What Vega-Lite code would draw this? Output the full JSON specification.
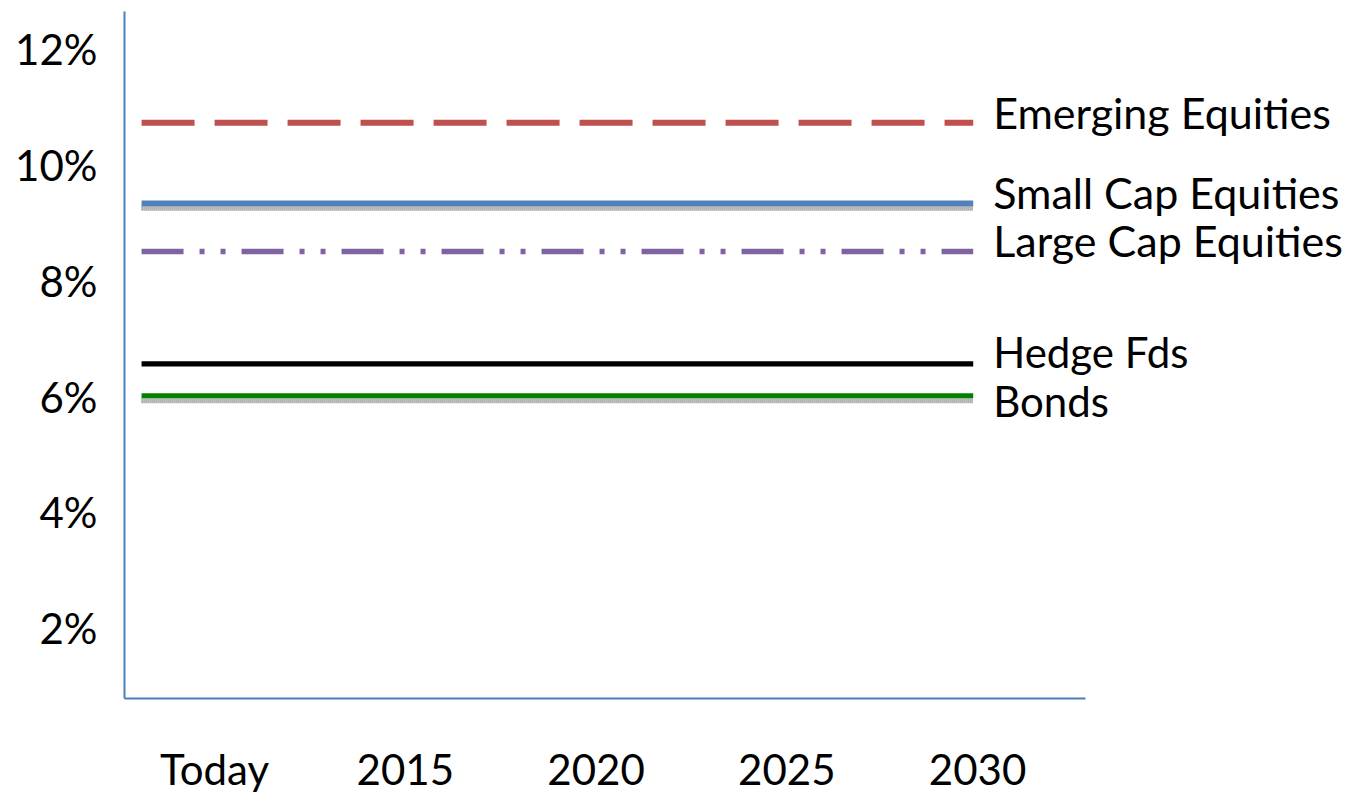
{
  "$schema": "https://vega.github.io/schema/vega-lite/v6.json",
  "width": 961,
  "height": 687,
  "autosize": {"type": "none"},
  "padding": {"left": 124, "top": 11, "right": 272, "bottom": 95},
  "background": "white",
  "config": {
    "view": {"stroke": null},
    "font": "Lato",
    "axis": {
      "grid": false,
      "ticks": false,
      "domainColor": "#4a7ebb",
      "domainWidth": 2,
      "labelFont": "Lato",
      "labelColor": "#000000",
      "title": null
    }
  },
  "datasets": {
    "returns": [
      {"series": "Emerging Equities", "start": 2008.1, "end": 2029.9, "value": 10.77},
      {"series": "Small Cap Equities", "start": 2008.1, "end": 2029.9, "value": 9.38},
      {"series": "Large Cap Equities", "start": 2008.1, "end": 2029.9, "value": 8.55},
      {"series": "Hedge Fds", "start": 2008.1, "end": 2029.9, "value": 6.61},
      {"series": "Bonds", "start": 2008.1, "end": 2029.9, "value": 6.06}
    ]
  },
  "data": {"name": "returns"},
  "encoding": {
    "x": {
      "field": "start",
      "type": "quantitative",
      "scale": {"domain": [2007.64, 2032.83], "nice": false, "zero": false},
      "axis": {
        "values": [2010, 2015, 2020, 2025, 2030],
        "labelExpr": "datum.value == 2010 ? 'Today' : '' + datum.value",
        "labelFontSize": 42,
        "labelBaseline": "alphabetic",
        "labelPadding": 86,
        "labelFlush": false,
        "labelOverlap": false
      }
    },
    "y": {
      "field": "value",
      "type": "quantitative",
      "scale": {"domain": [0.84, 12.7], "nice": false, "zero": false},
      "axis": {
        "values": [2, 4, 6, 8, 10, 12],
        "labelExpr": "datum.value + '%'",
        "labelFontSize": 42,
        "labelPadding": 27
      }
    }
  },
  "layer": [
    {
      "transform": [{"filter": "indexof(['Small Cap Equities', 'Bonds'], datum.series) >= 0"}],
      "mark": {"type": "rule", "yOffset": 5, "stroke": "#5a5a5a", "strokeWidth": 5, "strokeDash": [1, 1], "opacity": 0.85},
      "encoding": {"x2": {"field": "end"}}
    },
    {
      "mark": {"type": "rule", "strokeCap": "butt"},
      "encoding": {
        "x2": {"field": "end"},
        "color": {
          "field": "series",
          "type": "nominal",
          "legend": null,
          "scale": {
            "domain": ["Emerging Equities", "Small Cap Equities", "Large Cap Equities", "Hedge Fds", "Bonds"],
            "range": ["#c0504d", "#4f81bd", "#8064a2", "#000000", "#008000"]
          }
        },
        "strokeDash": {
          "field": "series",
          "type": "nominal",
          "legend": null,
          "scale": {
            "domain": ["Emerging Equities", "Small Cap Equities", "Large Cap Equities", "Hedge Fds", "Bonds"],
            "range": [[53, 20], [1, 0], [42, 16, 5, 16, 5, 16], [1, 0], [1, 0]]
          }
        },
        "strokeWidth": {
          "field": "series",
          "type": "nominal",
          "legend": null,
          "scale": {
            "domain": ["Emerging Equities", "Small Cap Equities", "Large Cap Equities", "Hedge Fds", "Bonds"],
            "range": [6, 5, 5, 3, 5]
          }
        }
      }
    },
    {
      "transform": [{"filter": "indexof(['Emerging Equities', 'Small Cap Equities', 'Large Cap Equities'], datum.series) >= 0"}],
      "mark": {"type": "text", "align": "left", "baseline": "alphabetic", "dx": 20, "dy": 6, "fontSize": 43, "font": "Lato", "color": "#000000"},
      "encoding": {"x": {"field": "end", "type": "quantitative"}, "text": {"field": "series"}}
    },
    {
      "transform": [{"filter": "datum.series == 'Hedge Fds'"}],
      "mark": {"type": "text", "align": "left", "baseline": "alphabetic", "dx": 20, "dy": 4, "fontSize": 42, "font": "Lato", "color": "#000000"},
      "encoding": {"x": {"field": "end", "type": "quantitative"}, "text": {"field": "series"}}
    },
    {
      "transform": [{"filter": "datum.series == 'Bonds'"}],
      "mark": {"type": "text", "align": "left", "baseline": "alphabetic", "dx": 20, "dy": 21, "fontSize": 42, "font": "Lato", "color": "#000000"},
      "encoding": {"x": {"field": "end", "type": "quantitative"}, "text": {"field": "series"}}
    }
  ]
}
